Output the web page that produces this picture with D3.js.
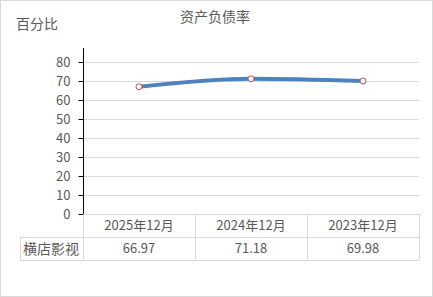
<!DOCTYPE html>
<html>
<head>
<meta charset="utf-8">
<script src="https://cdn.jsdelivr.net/npm/d3@7"></script>
<style>
  body { margin: 0; background: #fff; }
  svg text { font-family: "Microsoft YaHei", "Noto Sans CJK SC", sans-serif; fill: #595959; }
</style>
</head>
<body>
<svg id="chart" width="433" height="297"></svg>
<script>
// data
var categories = ["2025年12月", "2024年12月", "2023年12月"];
var seriesName = "横店影视";
var values = [66.97, 71.18, 69.98];
var yTicks = [0, 10, 20, 30, 40, 50, 60, 70, 80];

var svg = d3.select("#chart");
var width = 433, height = 297;

// outer frame
svg.append("rect")
  .attr("x", 0.5).attr("y", 0.5)
  .attr("width", width - 1).attr("height", height - 1)
  .attr("fill", "#fff").attr("stroke", "#d9d9d9");

var plotLeft = 83, plotRight = 419, plotTop = 48, plotBottom = 214;

var x = d3.scaleBand().domain(categories).range([plotLeft, plotRight]).padding(0);
var y = d3.scaleLinear().domain([0, 80]).range([plotBottom, 62]);

// title + unit label
svg.append("text")
  .attr("x", 215).attr("y", 22)
  .attr("text-anchor", "middle")
  .style("font-size", "14px")
  .text("资产负债率");

svg.append("text")
  .attr("x", 16).attr("y", 29)
  .style("font-size", "14px")
  .text("百分比");

// gridlines
svg.append("g")
  .selectAll("line")
  .data(yTicks.filter(function(d) { return d > 0; }))
  .enter()
  .append("line")
  .attr("x1", plotLeft).attr("x2", plotRight)
  .attr("y1", function(d) { return Math.round(y(d)) + 0.5; })
  .attr("y2", function(d) { return Math.round(y(d)) + 0.5; })
  .attr("stroke", "#d9d9d9");

// y axis
var yAxis = svg.append("g")
  .attr("transform", "translate(" + (plotLeft + 0.5) + ",0)")
  .call(d3.axisLeft(y).tickValues(yTicks).tickSize(5).tickPadding(8));
yAxis.select(".domain").remove();
yAxis.selectAll(".tick line").attr("stroke", "#000");
yAxis.selectAll(".tick text")
  .style("font-size", "13px")
  .style("font-family", "'Microsoft YaHei', 'Noto Sans CJK SC', sans-serif")
  .attr("fill", "#595959");
svg.append("line")
  .attr("x1", plotLeft + 0.5).attr("x2", plotLeft + 0.5)
  .attr("y1", plotTop).attr("y2", plotBottom + 0.5)
  .attr("stroke", "#000");

// data table
var tableLeft = 20, rowTop = 214, rowH = 23;
var grid = svg.append("g").attr("stroke", "#d9d9d9").attr("fill", "none");
grid.append("line").attr("x1", plotLeft).attr("x2", plotRight).attr("y1", rowTop + 0.5).attr("y2", rowTop + 0.5);
grid.append("line").attr("x1", tableLeft).attr("x2", plotRight).attr("y1", rowTop + rowH + 0.5).attr("y2", rowTop + rowH + 0.5);
grid.append("line").attr("x1", tableLeft).attr("x2", plotRight).attr("y1", rowTop + 2 * rowH + 0.5).attr("y2", rowTop + 2 * rowH + 0.5);
grid.append("line").attr("x1", tableLeft + 0.5).attr("x2", tableLeft + 0.5).attr("y1", rowTop + rowH).attr("y2", rowTop + 2 * rowH);
grid.selectAll(".vline")
  .data(categories)
  .enter()
  .append("line")
  .attr("x1", function(d) { return Math.round(x(d) + x.bandwidth()) + 0.5; })
  .attr("x2", function(d) { return Math.round(x(d) + x.bandwidth()) + 0.5; })
  .attr("y1", rowTop).attr("y2", rowTop + 2 * rowH);
grid.append("line").attr("x1", plotLeft + 0.5).attr("x2", plotLeft + 0.5)
  .attr("y1", rowTop).attr("y2", rowTop + 2 * rowH);

svg.selectAll(".cat")
  .data(categories)
  .enter()
  .append("text")
  .attr("x", function(d) { return x(d) + x.bandwidth() / 2; })
  .attr("y", rowTop + 16)
  .attr("text-anchor", "middle")
  .style("font-size", "13px")
  .text(function(d) { return d; });

svg.selectAll(".val")
  .data(values)
  .enter()
  .append("text")
  .attr("x", function(d, i) { return x(categories[i]) + x.bandwidth() / 2; })
  .attr("y", rowTop + rowH + 16)
  .attr("text-anchor", "middle")
  .style("font-size", "13px")
  .text(function(d) { return d.toFixed(2); });

svg.append("text")
  .attr("x", 23).attr("y", rowTop + rowH + 17)
  .style("font-size", "14px")
  .text(seriesName);

// smoothed line
var line = d3.line()
  .x(function(d, i) { return x(categories[i]) + x.bandwidth() / 2; })
  .y(function(d) { return y(d); })
  .curve(d3.curveMonotoneX);

svg.append("path")
  .datum(values)
  .attr("d", line)
  .attr("fill", "none")
  .attr("stroke", "#4f81bd")
  .attr("stroke-width", 4)
  .attr("stroke-linecap", "round");

svg.selectAll(".pt")
  .data(values)
  .enter()
  .append("circle")
  .attr("cx", function(d, i) { return x(categories[i]) + x.bandwidth() / 2; })
  .attr("cy", function(d) { return y(d); })
  .attr("r", 3)
  .attr("fill", "#fff")
  .attr("stroke", "#c0504d")
  .attr("stroke-width", 1);
</script>
</body>
</html>
